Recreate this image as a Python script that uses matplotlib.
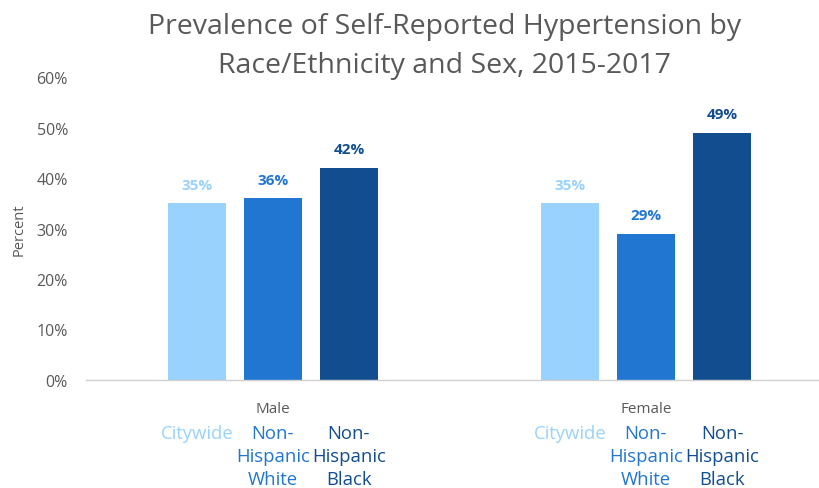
import matplotlib.pyplot as plt
import matplotlib.transforms as mtransforms
import numpy as np

plt.rcParams['font.family'] = ['Open Sans', 'DejaVu Sans']

groups = ["Male", "Female"]
series = ["Citywide", "Non-\nHispanic\nWhite", "Non-\nHispanic\nBlack"]
values = {
    "Citywide": [35, 35],
    "Non-\nHispanic\nWhite": [36, 29],
    "Non-\nHispanic\nBlack": [42, 49],
}
colors = ["#99D2FD", "#2176D2", "#124E8F"]
yticks = [0, 10, 20, 30, 40, 50, 60]

fig = plt.figure(figsize=(8.19, 4.89), dpi=100)
ax = fig.add_axes([86 / 819, 1 - 381 / 489, 733 / 819, 303 / 489])

x = np.arange(len(groups))
step = 0.204
width = 0.156

label_tf = mtransforms.blended_transform_factory(ax.transData, ax.transAxes)
for i, (name, color) in enumerate(zip(series, colors)):
    pos = x + (i - 1) * step
    vals = values[name]
    ax.bar(pos, vals, width=width, color=color, zorder=2)
    for p, v in zip(pos, vals):
        ax.text(p, v + 2.3, f"{v}%", ha='center', va='bottom',
                fontsize=11, fontweight='bold', color=color)
        ax.text(p, -0.145, name, ha='center', va='top', fontsize=13.3,
                color=color, linespacing=1.36, transform=label_tf)

for g, name in zip(x, groups):
    ax.text(g, -0.068, name, ha='center', va='top', fontsize=11,
            color='#595959', transform=label_tf)

ax.set_ylim(0, 60)
ax.set_xlim(-0.501, 1.464)
ax.set_yticks(yticks)
ax.set_yticklabels([f"{t}%" for t in yticks], fontsize=11.5, color='#595959')
ax.set_xticks([])
ax.tick_params(axis='y', length=0, pad=13)
ax.set_ylabel("Percent", fontsize=10.5, color='#595959', labelpad=7)

for side in ['top', 'right', 'left']:
    ax.spines[side].set_visible(False)
ax.spines['bottom'].set_color('#D0D0D0')
ax.spines['bottom'].set_linewidth(1)

fig.text(0.543, 0.974, "Prevalence of Self-Reported Hypertension by\nRace/Ethnicity and Sex, 2015-2017",
         ha='center', va='top', fontsize=20.5, color='#595959', linespacing=1.55)

fig.savefig("out.png", dpi=100)
